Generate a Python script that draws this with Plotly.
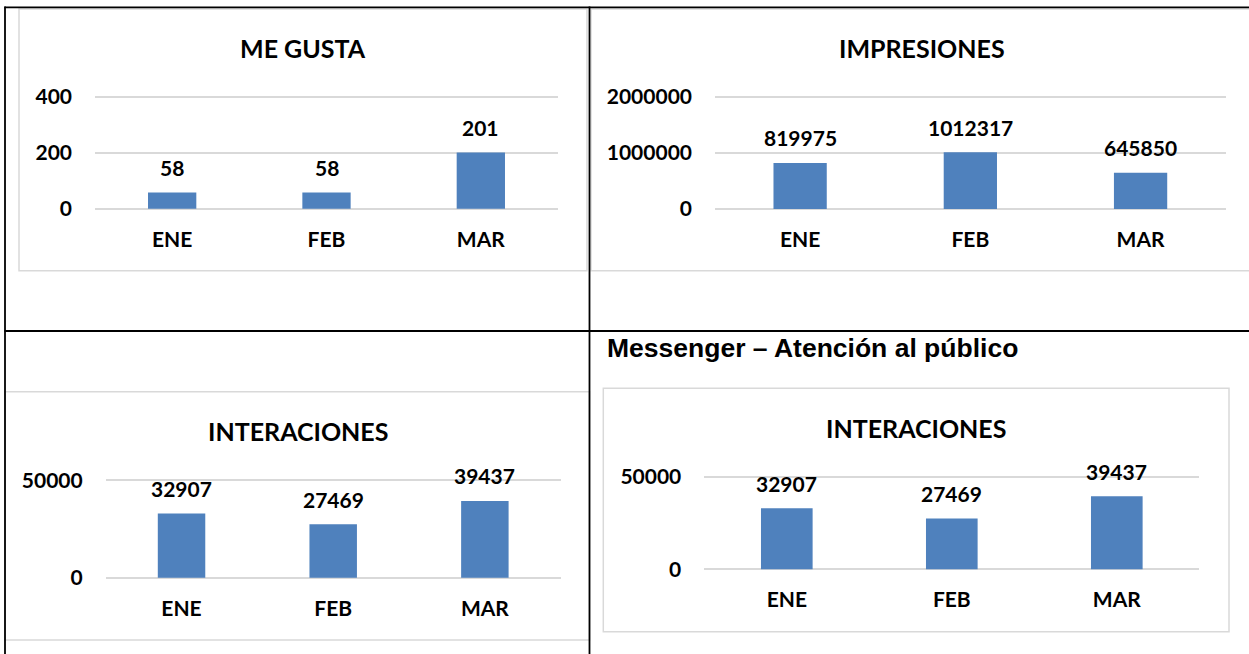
import plotly.graph_objects as go

W, H = 1249, 654

# ---------------- data ----------------
months = ["ENE", "FEB", "MAR"]
me_gusta = [58, 58, 201]
impresiones = [819975, 1012317, 645850]
interaciones = [32907, 27469, 39437]
interaciones_messenger = [32907, 27469, 39437]

me_gusta_ticks = [0, 200, 400]
impresiones_ticks = [0, 1000000, 2000000]
interaciones_ticks = [0, 50000]

titles = ["ME GUSTA", "IMPRESIONES", "INTERACIONES", "INTERACIONES"]
section_heading = "Messenger – Atención al público"

# ---------------- helpers ----------------
def px(x):
    return x / W

def py(y):
    return 1 - y / H

BAR = "#4F81BD"
GRID = "#D9D9D9"
FONT = "Lato"
PAD = 4  # px of padding so that edge gridlines are not clipped

charts = [
    dict(vals=me_gusta, ticks=me_gusta_ticks, rng=[0, 400],
         box=(95, 558, 96.7, 208.7), title=(303, 47.5)),
    dict(vals=impresiones, ticks=impresiones_ticks, rng=[0, 2000000],
         box=(715, 1225.7, 96.7, 209), title=(922, 47.5)),
    dict(vals=interaciones, ticks=interaciones_ticks, rng=[0, 50000],
         box=(105.7, 560.7, 480.3, 577.7), title=(297.7, 431)),
    dict(vals=interaciones_messenger, ticks=interaciones_ticks, rng=[0, 50000],
         box=(704.3, 1199.3, 476.7, 569.3), title=(916.3, 427.5)),
]

fig = go.Figure()
annotations = []
layout_axes = {}

for i, c in enumerate(charts, start=1):
    xa = "x" if i == 1 else f"x{i}"
    ya = "y" if i == 1 else f"y{i}"
    fig.add_trace(go.Bar(
        x=months, y=c["vals"], xaxis=xa, yaxis=ya,
        marker=dict(color=BAR, line=dict(width=0)),
        showlegend=False, hoverinfo="x+y",
    ))
    x0, x1, yt, yb = c["box"]
    rmin, rmax = c["rng"]
    upp = (rmax - rmin) / (yb - yt)
    yrange = [rmin - PAD * upp, rmax + PAD * upp]
    xkey = "xaxis" if i == 1 else f"xaxis{i}"
    ykey = "yaxis" if i == 1 else f"yaxis{i}"
    layout_axes[xkey] = dict(
        domain=[px(x0), px(x1)], anchor=ya, type="category",
        range=[-0.5, 2.5], showgrid=False, zeroline=False, showline=False,
        ticks="", ticklabelstandoff=12, automargin=False,
        tickfont=dict(family=FONT, size=21, color="black", weight="bold"),
        fixedrange=True,
    )
    layout_axes[ykey] = dict(
        domain=[py(yb + PAD), py(yt - PAD)], anchor=xa, range=yrange,
        tickvals=c["ticks"], ticktext=[str(t) for t in c["ticks"]],
        showgrid=True, gridcolor=GRID, gridwidth=1.5,
        zeroline=False, showline=False, ticks="", ticklabelstandoff=22,
        automargin=False,
        tickfont=dict(family=FONT, size=21, color="black", weight="bold"),
        fixedrange=True,
    )
    for m, v in zip(months, c["vals"]):
        annotations.append(dict(
            x=m, y=v, xref=xa, yref=ya, text=str(v), showarrow=False,
            xanchor="center", yanchor="middle", yshift=25,
            font=dict(family=FONT, size=21, color="black", weight="bold"),
        ))
    tx, ty = c["title"]
    annotations.append(dict(
        x=px(tx), y=py(ty), xref="paper", yref="paper", text=titles[i - 1],
        showarrow=False, xanchor="center", yanchor="middle",
        font=dict(family=FONT, size=25, color="black", weight="bold"),
    ))

annotations.append(dict(
    x=px(605), y=py(348), xref="paper", yref="paper", text=section_heading,
    showarrow=False, xanchor="left", yanchor="middle",
    font=dict(family="Liberation Sans", size=26.5, color="black", weight="bold"),
))

shapes = []
frames = [(19, 9, 587, 270.7), (591, 9, 1260, 270.7),
          (5, 391.7, 589.5, 640), (603.3, 388.3, 1229, 631.7)]
for (a, b, c2, d) in frames:
    shapes.append(dict(type="rect", xref="paper", yref="paper",
                       x0=px(a), x1=px(c2), y0=py(d), y1=py(b),
                       line=dict(color=GRID, width=1.5),
                       fillcolor="white", layer="below"))
lines = [(4.5, 7.3, 1249, 7.3), (4.5, 331, 1249, 331),
         (5, 6.5, 5, 654), (589.5, 6.5, 589.5, 654)]
for (a, b, c2, d) in lines:
    shapes.append(dict(type="line", xref="paper", yref="paper",
                       x0=px(a), x1=px(c2), y0=py(b), y1=py(d),
                       line=dict(color="black", width=1.8), layer="above"))

fig.update_layout(
    template="none",
    width=W, height=H, margin=dict(l=0, r=0, t=0, b=0, pad=0, autoexpand=False),
    paper_bgcolor="white", plot_bgcolor="rgba(0,0,0,0)",
    bargap=0.687, showlegend=False,
    annotations=annotations, shapes=shapes,
    **layout_axes,
)

fig.write_html(
    "out.html",
    config={"displayModeBar": False},
    post_script="document.body.style.margin='0';document.body.style.overflow='hidden';",
)
